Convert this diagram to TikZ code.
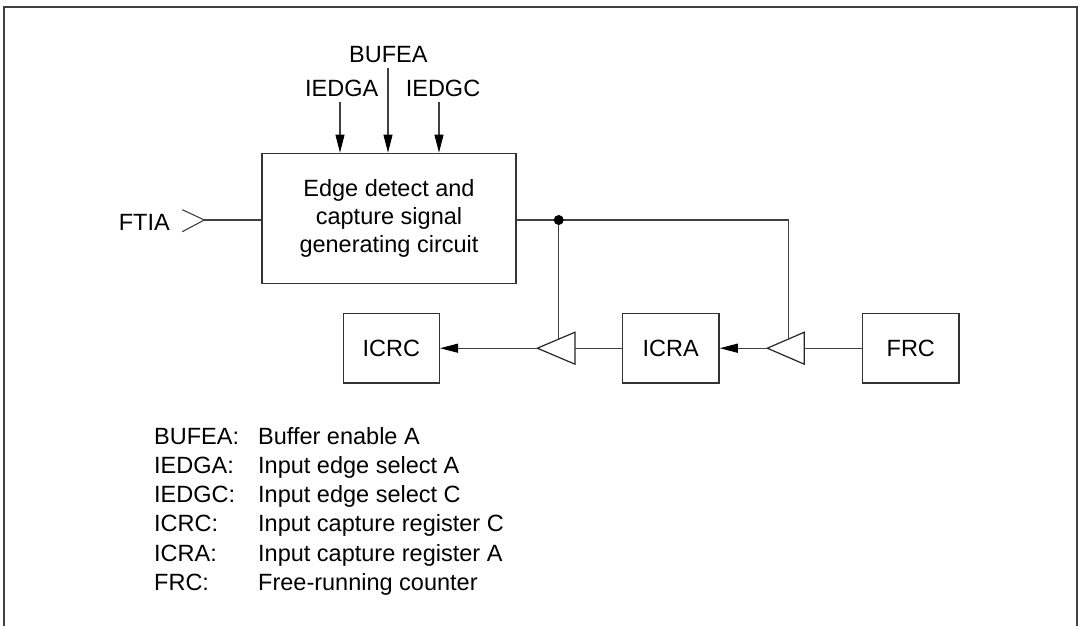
\documentclass[tikz,border=0pt]{standalone}
\usepackage{fontspec}
\setmainfont{Liberation Sans}
\usetikzlibrary{arrows.meta}
\begin{document}
\begin{tikzpicture}[x=1pt,y=-1pt,
  every node/.style={font=\fontsize{23.5}{28.3}\selectfont, inner sep=0pt},
  wire/.style={line width=1.1pt, draw=black!75},
  blk/.style={draw=black!80, line width=1.4pt, inner sep=0pt},
  arr/.style={wire, -{Triangle[length=18pt,width=9pt,color=black,fill=black]}},
  amp/.style={draw=black!85, line width=1.2pt, fill=white},
  lbl/.style={anchor=base},
  leg/.style={anchor=base west}]
\useasboundingbox (0,0) rectangle (1081,626);
\draw[draw=black!75, line width=2pt] (4,630) -- (4,7) -- (1077,7) -- (1077,630);

% main block
\node[blk, minimum width=254pt, minimum height=130pt, align=center] (edge) at (389,218.3)
  {Edge detect and\\capture signal\\generating circuit};

% top labels
\node[lbl] (bufea) at (388.3,62.7) {BUFEA};
\node[lbl] (iedga) at (341.7,96.7) {IEDGA};
\node[lbl] (iedgc) at (443,96.7) {IEDGC};
\coordinate (bufeaS) at (388,68);
\coordinate (iedgaS) at (340,102);
\coordinate (iedgcS) at (439,102);
\draw[arr] (bufeaS) -- (bufeaS |- edge.north);
\draw[arr] (iedgaS) -- (iedgaS |- edge.north);
\draw[arr] (iedgcS) -- (iedgcS |- edge.north);

% FTIA input
\node[anchor=base east] (ftia) at (170,230.7) {FTIA};
\coordinate (pin) at (204.3,220);
\draw[wire] (182.3,209.7) -- (pin) -- (182.3,231.7);
\draw[wire] (pin) -- (pin -| edge.west);

% lower blocks
\node[blk, minimum width=96pt, minimum height=69.7pt] (icrc) at (391.3,348.2) {ICRC};
\node[blk, minimum width=96.7pt, minimum height=69.7pt] (icra) at (670.7,348.2) {ICRA};
\node[blk, minimum width=96.3pt, minimum height=69.7pt] (frc) at (910.8,348.2) {FRC};

% buffers (triangles)
\coordinate (t1a) at (537.3,348.2);
\coordinate (t1b) at (575,348.2);
\coordinate (t2a) at (767.3,348.2);
\coordinate (t2b) at (804.3,348.2);
\draw[amp] (t1a) -- (575,332.2) -- (575,364.2) -- cycle;
\draw[amp] (t2a) -- (804.3,332.2) -- (804.3,364.2) -- cycle;

\draw[wire] (frc.west) -- (t2b);
\draw[arr] (t2a) -- (icra.east);
\draw[wire] (icra.west) -- (t1b);
\draw[arr] (t1a) -- (icrc.east);

% output / enables
\coordinate (jn) at (558.7,220);
\coordinate (rc) at (788.3,220);
\coordinate (e1) at (558.7,338.6);
\coordinate (e2) at (788.3,338.5);
\draw[wire] (edge.east |- jn) -- (jn) -- (rc) -- (e2);
\draw[wire] (jn) -- (e1);
\fill[black] (jn) circle (5pt);

% legend
\node[leg] (l1a) at (154,444) {BUFEA:};
\node[leg] (l1b) at (258,444) {Buffer enable A};
\node[leg] (l2a) at (154,473.3) {IEDGA:};
\node[leg] (l2b) at (258,473.3) {Input edge select A};
\node[leg] (l3a) at (154,502.6) {IEDGC:};
\node[leg] (l3b) at (258,502.6) {Input edge select C};
\node[leg] (l4a) at (154,531.9) {ICRC:};
\node[leg] (l4b) at (258,531.9) {Input capture register C};
\node[leg] (l5a) at (154,561.2) {ICRA:};
\node[leg] (l5b) at (258,561.2) {Input capture register A};
\node[leg] (l6a) at (154,590.5) {FRC:};
\node[leg] (l6b) at (258,590.5) {Free-running counter};
\end{tikzpicture}
\end{document}
